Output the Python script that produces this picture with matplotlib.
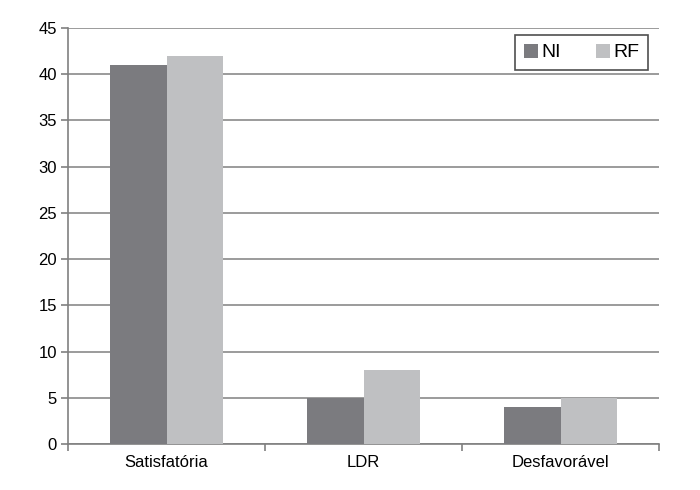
import matplotlib
matplotlib.use("Agg")
import matplotlib.pyplot as plt
import numpy as np

categories = ["Satisfatória", "LDR", "Desfavorável"]
ni = [41, 5, 4]
rf = [42, 8, 5]
yticks = [0, 5, 10, 15, 20, 25, 30, 35, 40, 45]

plt.rcParams['font.family'] = ['Liberation Sans', 'DejaVu Sans']

fig = plt.figure(figsize=(7, 4.9), dpi=100)
ax = fig.add_axes([68/700, 1-444/490, (659-68)/700, (444-28)/490])

x = np.arange(len(categories))
w = 0.285
ax.bar(x - w/2, ni, w, color="#7b7b7f", label="NI", zorder=3)
ax.bar(x + w/2, rf, w, color="#bfc0c2", label="RF", zorder=3)

ax.set_xlim(-0.5, len(categories) - 0.5)
ax.set_ylim(0, 45)
ax.set_yticks(yticks)
ax.set_yticklabels([str(v) for v in yticks], fontsize=12)
ax.set_xticks(x)
ax.set_xticklabels(categories, fontsize=12)
ax.tick_params(axis='x', length=0, pad=8)
ax.set_xticks(np.arange(len(categories) + 1) - 0.5, minor=True)
ax.tick_params(axis='x', which='minor', length=5, color="#808080", width=1.2)
ax.tick_params(axis='y', length=5, color="#808080", width=1.2, pad=3)
ax.yaxis.grid(True, color="#8a8a8a", linewidth=1.2, zorder=0)
for s in ["top", "right"]:
    ax.spines[s].set_visible(False)
for s in ["left", "bottom"]:
    ax.spines[s].set_color("#808080")
    ax.spines[s].set_linewidth(1.2)

leg = ax.legend(loc="upper right", ncol=2, fontsize=14, frameon=True, fancybox=False,
                edgecolor="#222222", handlelength=0.75, handleheight=0.75,
                columnspacing=1.8, handletextpad=0.15, borderpad=0.45,
                bbox_to_anchor=(0.998, 1.007))
leg.get_frame().set_linewidth(1.2)
leg.set_zorder(5)

fig.savefig("out.png", dpi=100, facecolor="white")
